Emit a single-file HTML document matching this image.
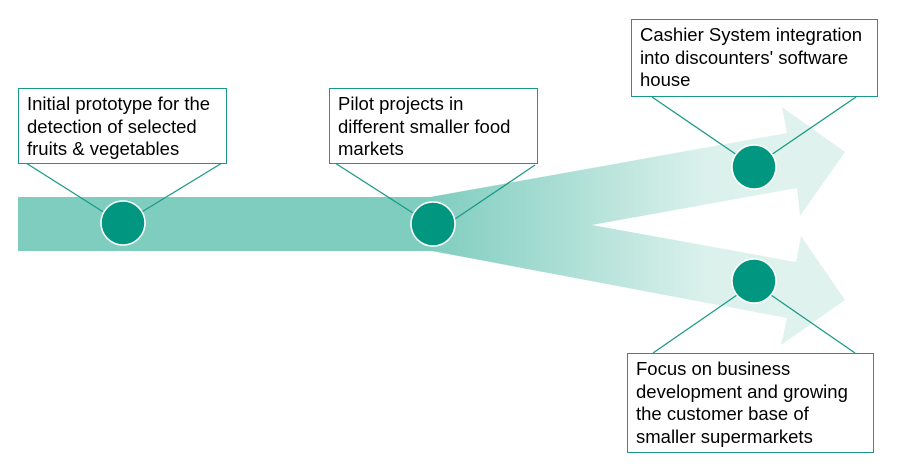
<!DOCTYPE html>
<html><head><style>
body{margin:0;background:#fff;width:908px;height:468px;overflow:hidden}
.b{position:absolute;background:#fff;border:1.5px solid #1a9a86;font-family:"Liberation Sans",sans-serif;font-size:18.5px;line-height:22.5px;color:#000;padding:4px 8px;box-sizing:border-box;white-space:nowrap}
</style></head><body>
<svg width="908" height="468" style="position:absolute;left:0;top:0">
<defs>
<linearGradient id="g" x1="430" y1="0" x2="800" y2="0" gradientUnits="userSpaceOnUse">
<stop offset="0" stop-color="#7fcdbf"/><stop offset="0.75" stop-color="#dbf1ec"/><stop offset="1" stop-color="#e0f2ee"/>
</linearGradient>
</defs>
<rect x="18" y="197" width="415" height="54" fill="#7fcdbf"/>
<path d="M430,197 L787,133 L782,107 L845,152 L800,216 L797,188 L592,225 L796,262 L801,236 L845,300 L781,345 L787,318 L432,251 Z" fill="url(#g)"/>
<g stroke="#1a9a86" stroke-width="1.3" fill="none">
<path d="M26,163 L105,213 M222,163 L140,213"/>
<path d="M335,163 L413,213 M535,165 L455,219"/>
<path d="M652,97 L737,155 M856,97 L771,155"/>
<path d="M653,353 L737,295 M855,353 L771,295"/>
</g>
<g fill="#00967f" stroke="#fff" stroke-width="1.5">
<circle cx="123" cy="223" r="22"/><circle cx="433" cy="224" r="22"/>
<circle cx="754" cy="167" r="22"/><circle cx="754" cy="281" r="22"/>
</g>
</svg>
<div class="b" style="left:18px;top:88px;width:209px;height:76px">Initial prototype for the<br>detection of selected<br>fruits &amp; vegetables</div>
<div class="b" style="left:329px;top:88px;width:209px;height:76px">Pilot projects in<br>different smaller food<br>markets</div>
<div class="b" style="left:631px;top:19px;width:247px;height:78px">Cashier System integration<br>into discounters' software<br>house</div>
<div class="b" style="left:627px;top:353px;width:247px;height:100px">Focus on business<br>development and growing<br>the customer base of<br>smaller supermarkets</div>
</body></html>
